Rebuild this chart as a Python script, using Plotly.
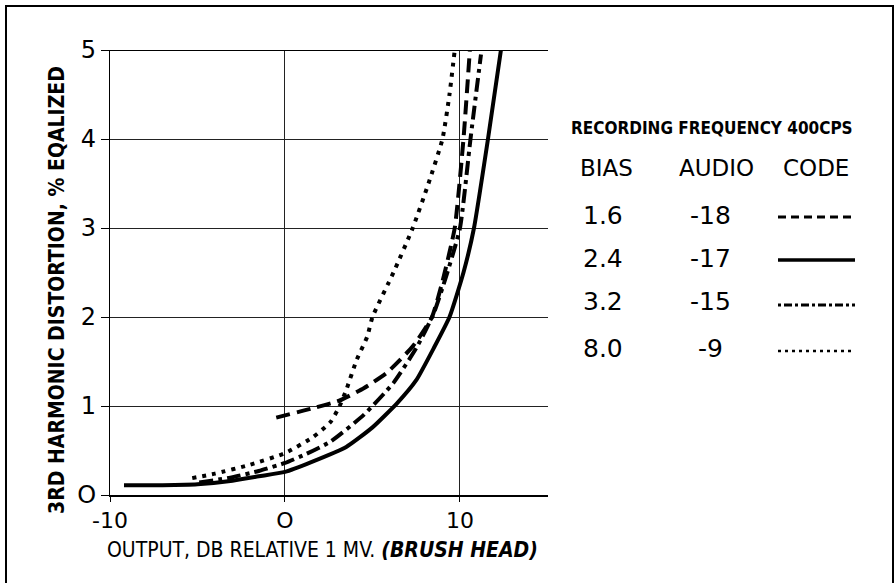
import plotly.graph_objects as go

# ---- data ----
bias_16_x = [-0.5, 1.5, 3.1, 4.5, 5.8, 7.3, 8.4, 9.0, 9.7, 10.2, 10.6]
bias_16_y = [0.87, 0.97, 1.06, 1.2, 1.37, 1.67, 2.0, 2.4, 3.0, 4.0, 5.1]

bias_24_x = [-9.2, -7, -5, -3, -1.5, 0, 1.5, 3.5, 5, 6.4, 7.5, 8.5, 9.4, 10.2, 10.8, 11.6, 12.4]
bias_24_y = [0.11, 0.11, 0.12, 0.16, 0.21, 0.26, 0.37, 0.54, 0.76, 1.03, 1.29, 1.65, 2.0, 2.5, 3.0, 4.0, 5.08]

bias_32_x = [-4.9, -3, -1.5, 0, 1.2, 2.6, 4.5, 6.2, 7.5, 8.5, 9.2, 10.0, 10.6, 11.2]
bias_32_y = [0.14, 0.2, 0.27, 0.36, 0.46, 0.6, 0.9, 1.26, 1.65, 2.04, 2.45, 3.0, 4.0, 4.95]

bias_80_x = [-5.3, -4, -2, 0, 1.6, 2.6, 3.1, 3.5, 4.1, 4.7, 5.0, 6.2, 7.3, 8.2, 9.0, 9.4, 9.7]
bias_80_y = [0.19, 0.24, 0.34, 0.47, 0.65, 0.82, 0.99, 1.18, 1.52, 1.78, 2.0, 2.5, 3.0, 3.5, 4.0, 4.5, 5.0]

bias_labels = ["1.6", "2.4", "3.2", "8.0"]
audio_labels = ["-18", "-17", "-15", "-9"]
x_ticks = [-10, 0, 10]
x_tick_text = ["-10", "O", "10"]
y_ticks = [0, 1, 2, 3, 4, 5]
y_tick_text = ["O", "1", "2", "3", "4", "5"]

dashes = ["14px,7px", "solid", "14px,5px,4px,5px", "4px,6px"]
series = [(bias_16_x, bias_16_y), (bias_24_x, bias_24_y), (bias_32_x, bias_32_y), (bias_80_x, bias_80_y)]

fig = go.Figure()
for (xs, ys), d, b in zip(series, dashes, bias_labels):
    fig.add_trace(go.Scatter(x=xs, y=ys, mode="lines", name=b, cliponaxis=False,
                             line=dict(color="black", width=4, dash=d, shape="spline", smoothing=0.5)))

HAND = "DejaVu Sans Condensed, Liberation Sans Narrow, DejaVu Sans, sans-serif"
TICK = "DejaVu Sans, Liberation Sans, sans-serif"

fig.update_layout(
    width=895, height=583,
    margin=dict(l=110, r=347, t=50, b=88),
    paper_bgcolor="white", plot_bgcolor="white",
    showlegend=False,
    xaxis=dict(range=[-10, 15.03], tickvals=x_ticks, ticktext=x_tick_text,
               showgrid=True, gridcolor="#222", gridwidth=1,
               showline=True, linecolor="black", linewidth=1.5,
               ticks="outside", ticklen=5, tickcolor="black",
               tickfont=dict(family=TICK, size=22, color="black"), zeroline=False),
    yaxis=dict(range=[0, 5], tickvals=y_ticks, ticktext=y_tick_text,
               showgrid=True, gridcolor="#222", gridwidth=1.2,
               showline=True, linecolor="black", linewidth=1.2,
               ticks="outside", ticklen=8, tickcolor="black",
               tickfont=dict(family=TICK, size=24, color="black"), zeroline=False),
)

def px2paper(px, py):
    return (px - 110) / 438, (495 - py) / 445

def label(cx, cy, text, font, **kw):
    x, y = px2paper(cx, cy)
    d = dict(x=x, y=y, xref="paper", yref="paper", showarrow=False,
             xanchor="center", yanchor="middle", text=text, font=font)
    d.update(kw)
    return d

ann = []
ann.append(label(322, 550, "OUTPUT, DB RELATIVE 1 MV. <i><b>(BRUSH HEAD)</b></i>",
                 dict(family=HAND, size=21, color="black")))
ann.append(label(57, 290, "<b>3RD HARMONIC DISTORTION, % EQALIZED</b>",
                 dict(family=HAND, size=21, color="black"), textangle=-90))
ann.append(label(712, 128, "<b>RECORDING FREQUENCY 400CPS</b>",
                 dict(family=HAND, size=17, color="black")))
for txt, cx in [("BIAS", 606), ("AUDIO", 716), ("CODE", 816)]:
    ann.append(label(cx, 168, txt, dict(family=TICK, size=23, color="black")))
row_y = [215, 258, 301, 348]
line_y = [217, 260, 305, 351]
for b, a, ry in zip(bias_labels, audio_labels, row_y):
    ann.append(label(603, ry, b, dict(family=TICK, size=25, color="black")))
    ann.append(label(710, ry, a, dict(family=TICK, size=25, color="black")))
fig.update_layout(annotations=ann)

shapes = []
legend_dash = ["8px,5px", "solid", "3px,3px,8px,3px", "3px,4px"]
legend_w = [3, 3.5, 3, 2.5]
for d, w, ly in zip(legend_dash, legend_w, line_y):
    x0, y0 = px2paper(778, ly)
    x1, _ = px2paper(855, ly)
    shapes.append(dict(type="line", xref="paper", yref="paper", x0=x0, x1=x1, y0=y0, y1=y0,
                       line=dict(color="black", width=w, dash=d)))
# outer frame
x0, y0 = px2paper(6, 600)
x1, y1 = px2paper(893, 6)
shapes.append(dict(type="rect", xref="paper", yref="paper", x0=x0, x1=x1, y0=y0, y1=y1,
                   line=dict(color="black", width=2)))
# heavier top rule at y = 5
shapes.append(dict(type="line", xref="paper", yref="y", x0=-0.02, x1=1.0, y0=5, y1=5,
                   line=dict(color="black", width=2)))
fig.update_layout(shapes=shapes)

fig.write_html("out.html", config={"displayModeBar": False},
               post_script="document.body.style.margin='0';document.body.style.overflow='hidden';")
